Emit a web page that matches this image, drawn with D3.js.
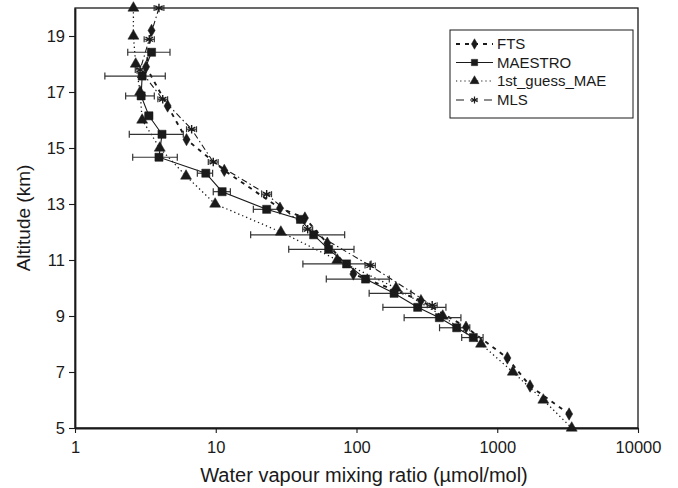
<!DOCTYPE html>
<html>
<head>
<meta charset="utf-8">
<script src="https://cdn.jsdelivr.net/npm/d3@7"></script>
<style>
  body { margin: 0; background: #fff; }
  svg { display: block; font-family: "Liberation Sans", Arial, sans-serif; }
</style>
</head>
<body>
<div id="chart"></div>
<script>
const W = 678, H = 488;
const margin = {top: 8, right: 40, bottom: 60, left: 75};

// FTS (diamonds, dashed)
const ftsAlt = [19.2, 17.9, 16.5, 15.3, 14.2, 12.85, 12.5, 11.6, 10.5, 9.55, 8.6, 7.5, 6.5, 5.5];
const ftsVmr = [3.5, 3.2, 4.55, 6.2, 11.5, 28.6, 43, 62, 95, 287, 600, 1180, 1710, 3240];

// MAESTRO (squares, solid, error bars)
const maeAlt = [18.42, 17.57, 16.86, 16.15, 15.49, 14.67, 14.1, 13.44, 12.81, 12.45, 11.9, 11.38, 10.86, 10.32, 9.81, 9.31, 8.94, 8.58, 8.23];
const maeVmr = [3.5, 3.0, 2.95, 3.35, 4.15, 3.95, 8.5, 11.1, 23, 40, 49.6, 63.4, 85, 116, 185, 272, 388, 515, 676];
const maeLo  = [2.37, 1.63, 2.29, 3.15, 2.43, 2.57, 7.4, 9.6, 18.5, 38, 17.7, 33, 41.6, 61, 123, 154, 218, 389, 559];
const maeHi  = [4.73, 4.38, 3.66, 3.55, 5.88, 5.33, 9.5, 12.7, 28.6, 43, 82.4, 96, 127, 171, 244, 432, 552, 638, 793];

// 1st guess (triangles, dotted)
const gsAlt = [20, 19, 18, 17, 16, 15, 14, 13, 12, 11, 10, 9, 8, 7, 6, 5];
const gsVmr = [2.6, 2.6, 2.7, 2.9, 3.0, 4.0, 6.15, 9.9, 29, 73, 191, 410, 767, 1290, 2125, 3380];

// MLS (stars, dash-dot, small error bars)
const mlsAlt = [20.0, 18.88, 17.79, 16.74, 15.67, 14.5, 13.35, 12.1, 10.8, 9.38];
const mlsVmr = [3.95, 3.37, 2.9, 4.2, 6.74, 9.6, 23, 45, 125, 345];
const mlsLo  = [3.65, 3.1, 2.68, 3.88, 6.2, 8.85, 21.2, 41.5, 115, 318];
const mlsHi  = [4.28, 3.66, 3.14, 4.55, 7.3, 10.4, 24.9, 48.8, 136, 374];

const xTicks = [1, 10, 100, 1000, 10000];
const yTicks = [5, 7, 9, 11, 13, 15, 17, 19];

const legendNames = ["FTS", "MAESTRO", "1st_guess_MAE", "MLS"];

const svg = d3.select("#chart").append("svg")
  .attr("width", W).attr("height", H);

const x = d3.scaleLog().domain([1, 10000]).range([margin.left, W - margin.right]);
const y = d3.scaleLinear().domain([5, 20]).range([H - margin.bottom, margin.top]);

const ink = "#1a1a1a";

// frame
svg.append("rect")
  .attr("x", x(1)).attr("y", y(20))
  .attr("width", x(10000) - x(1)).attr("height", y(5) - y(20))
  .attr("fill", "none").attr("stroke", ink).attr("stroke-width", 1.3);

// axes
const gx = svg.append("g")
  .attr("transform", `translate(0,${y(5)})`)
  .call(d3.axisBottom(x).tickValues(xTicks).tickFormat(d3.format("d")).tickSize(5).tickSizeOuter(0));
const gy = svg.append("g")
  .attr("transform", `translate(${x(1)},0)`)
  .call(d3.axisLeft(y).tickValues(yTicks).tickSize(6).tickSizeOuter(0));

[gx, gy].forEach(g => {
  g.selectAll(".domain").attr("stroke", ink).attr("stroke-width", 1.8);
  g.selectAll(".tick line").attr("stroke", ink).attr("stroke-width", 1.1);
  g.selectAll(".tick text").attr("fill", ink).style("font-size", "16.5px")
    .style("font-family", "'Liberation Sans', Arial, sans-serif");
});
gx.selectAll(".tick text").attr("y", 25).attr("dy", 0);
gy.selectAll(".tick text").attr("x", -10).attr("dy", "0.34em");

svg.append("text")
  .attr("x", 364).attr("y", 482)
  .attr("text-anchor", "middle").attr("fill", ink)
  .style("font-size", "20px")
  .text("Water vapour mixing ratio (\u00b5mol/mol)");

svg.append("text")
  .attr("transform", `translate(30,${(y(5) + y(20)) / 2}) rotate(-90)`)
  .attr("text-anchor", "middle").attr("fill", ink)
  .style("font-size", "19px")
  .text("Altitude (km)");

const plot = svg.append("g");

function series(alt, vmr) {
  return alt.map((a, i) => ({alt: a, v: vmr[i]}));
}
const lineGen = d3.line().x(d => x(d.v)).y(d => y(d.alt));

const fts = series(ftsAlt, ftsVmr);
const mae = series(maeAlt, maeVmr).map((d, i) => ({...d, lo: maeLo[i], hi: maeHi[i]}));
const gs = series(gsAlt, gsVmr);
const mls = series(mlsAlt, mlsVmr).map((d, i) => ({...d, lo: mlsLo[i], hi: mlsHi[i]}));

// lines
plot.append("path").datum(gs).attr("d", lineGen)
  .attr("fill", "none").attr("stroke", ink).attr("stroke-width", 1.3).attr("stroke-dasharray", "1.3,3");
plot.append("path").datum(mls).attr("d", lineGen)
  .attr("fill", "none").attr("stroke", ink).attr("stroke-width", 1.1).attr("stroke-dasharray", "6,3,1.5,3");
plot.append("path").datum(fts).attr("d", lineGen)
  .attr("fill", "none").attr("stroke", ink).attr("stroke-width", 1.9).attr("stroke-dasharray", "4,5");
plot.append("path").datum(mae).attr("d", lineGen)
  .attr("fill", "none").attr("stroke", ink).attr("stroke-width", 1.1);

// error bars
function errorBars(data, cap, color) {
  const g = plot.append("g").attr("stroke", color).attr("stroke-width", 1.2);
  g.selectAll(".eb").data(data).join("line")
    .attr("x1", d => x(d.lo)).attr("x2", d => x(d.hi))
    .attr("y1", d => y(d.alt)).attr("y2", d => y(d.alt));
  g.selectAll(".capl").data(data).join("line")
    .attr("x1", d => x(d.lo)).attr("x2", d => x(d.lo))
    .attr("y1", d => y(d.alt) - cap).attr("y2", d => y(d.alt) + cap);
  g.selectAll(".caph").data(data).join("line")
    .attr("x1", d => x(d.hi)).attr("x2", d => x(d.hi))
    .attr("y1", d => y(d.alt) - cap).attr("y2", d => y(d.alt) + cap);
}
errorBars(mae, 3.5, "#333");
errorBars(mls, 3, "#333");

// markers
function markers(data, type, size, filled) {
  plot.append("g").selectAll("path").data(data).join("path")
    .attr("transform", d => `translate(${x(d.v)},${y(d.alt)})`)
    .attr("d", d3.symbol().type(type).size(size))
    .attr("fill", filled ? ink : "none")
    .attr("stroke", ink).attr("stroke-width", filled ? 0.5 : 1.4);
}
markers(gs, d3.symbolTriangle, 52, true);
markers(mls, d3.symbolAsterisk, 52, false);
markers(fts, d3.symbolDiamond, 44, true);
markers(mae, d3.symbolSquare, 66, true);

// legend
const lg = svg.append("g");
lg.append("rect").attr("x", 450).attr("y", 30).attr("width", 183).attr("height", 88)
  .attr("fill", "#fff").attr("stroke", ink).attr("stroke-width", 1);

const legendStyle = [
  {dash: "4,5", w: 1.8, sym: d3.symbolDiamond, size: 32},
  {dash: null, w: 1, sym: d3.symbolSquare, size: 40},
  {dash: "1.2,3", w: 1.2, sym: d3.symbolTriangle, size: 36},
  {dash: "8,6", w: 1.2, sym: d3.symbolAsterisk, size: 36}
];
const legendY = [44, 62.5, 81, 100];

legendNames.forEach((name, i) => {
  const st = legendStyle[i];
  const yy = legendY[i];
  lg.append("line").attr("x1", 456).attr("x2", 493).attr("y1", yy).attr("y2", yy)
    .attr("stroke", ink).attr("stroke-width", st.w)
    .attr("stroke-dasharray", st.dash);
  lg.append("path").attr("transform", `translate(474.5,${yy})`)
    .attr("d", d3.symbol().type(st.sym).size(st.size))
    .attr("fill", st.sym === d3.symbolAsterisk ? "none" : ink)
    .attr("stroke", ink).attr("stroke-width", st.sym === d3.symbolAsterisk ? 1.2 : 0.5);
  lg.append("text").attr("x", 497).attr("y", yy + 5.3)
    .attr("fill", ink).style("font-size", "15px").text(name);
});
</script>
</body>
</html>
